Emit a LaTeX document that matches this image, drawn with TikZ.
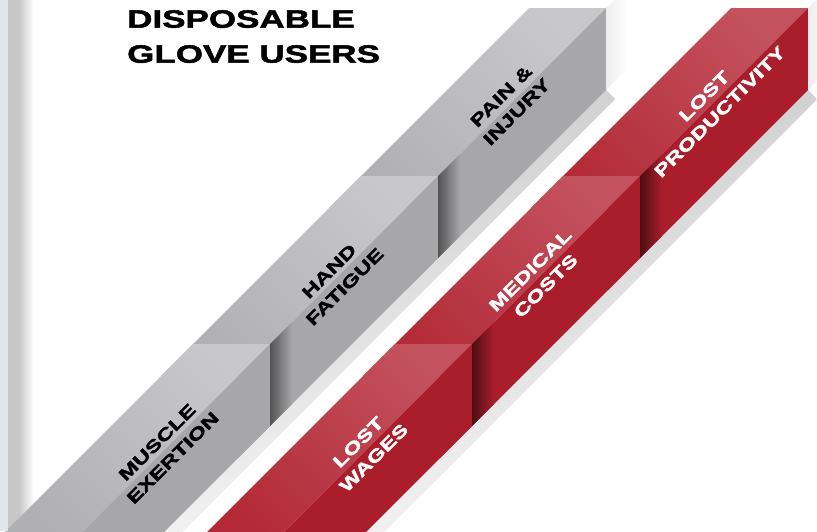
\documentclass[tikz,border=0pt]{standalone}
\usepackage{fontspec}
\usetikzlibrary{positioning,calc}
\newfontfamily\widefont[FakeStretch=1.4,BoldFeatures={FakeBold=2}]{Liberation Sans}
\definecolor{stripblue}{HTML}{E2E6EA}
\definecolor{grayhi}{HTML}{C8C8CA}
\definecolor{graylo}{HTML}{B0B0B2}
\definecolor{grayside}{HTML}{A7A7A9}
\definecolor{redhi}{HTML}{C3525D}
\definecolor{redlo}{HTML}{B32937}
\definecolor{redside}{HTML}{AA1E2C}
\tikzset{
  grayfront/.style={top color=grayhi,bottom color=graylo,shading angle=-45},
  redfront/.style={top color=redhi,bottom color=redlo,shading angle=-45},
  steplabel/.style={rotate=45,align=center,inner sep=0pt,font=\widefont\bfseries\fontsize{17}{22}\selectfont},
}
\begin{document}
\begin{tikzpicture}[x=1pt,y=-1pt]
\useasboundingbox (0,0) rectangle (817,531);
\clip (0,0) rectangle (817,531);
% Page edge
\fill[black!22] (8,0) rectangle (19,531);
\shade[left color=black!22,right color=white] (19,0) rectangle (34,531);
% Shadows under the bands
\foreach \X in {606,808} {
  \begin{scope}[shift={(\X,90)},rotate=45]
    \shade[top color=black!18,bottom color=white] (-900,0) rectangle (0,13);
  \end{scope}
}
% Gray steps
\foreach \X/\Y in {606/8,438/176,270/344} {
  \shade[grayfront] (\X-77,\Y) -- (\X,\Y) -- (\X-200,\Y+200) -- (\X-277,\Y+200) -- cycle;
  \fill[grayside] (\X,\Y) -- (\X,\Y+82) -- (\X-200,\Y+282) -- (\X-200,\Y+200) -- cycle;
}
% Red steps
\foreach \X/\Y in {808/8,640/176,472/344} {
  \shade[redfront] (\X-77,\Y) -- (\X,\Y) -- (\X-200,\Y+200) -- (\X-277,\Y+200) -- cycle;
  \fill[redside] (\X,\Y) -- (\X,\Y+82) -- (\X-200,\Y+282) -- (\X-200,\Y+200) -- cycle;
}
% Shadows of the step ends
\foreach \X/\Y/\dark/\back in {606/8/black!7/white,438/176/grayside!50!black/grayside,270/344/grayside!50!black/grayside,808/8/black!7/white,640/176/redside!45!black/redside,472/344/redside!45!black/redside}
  \shade[left color=\dark,right color=\back] (\X,\Y) -- (\X,\Y+82) -- (\X+22,\Y+60) -- (\X+22,\Y-22) -- cycle;
% Page strip
\fill[stripblue] (0,0) rectangle (8,531);
% Title
\node[anchor=north west,inner sep=0pt,align=left,font=\widefont\bfseries\fontsize{25}{35}\selectfont] (title) at (127,10) {DISPOSABLE\\GLOVE USERS};
% Labels
\node[steplabel] (pain) at (509,104) {PAIN \&\\INJURY};
\node[steplabel] (hand) at (337,279) {HAND\\FATIGUE};
\node[steplabel] (muscle) at (165,450) {MUSCLE\\EXERTION};
\node[steplabel,text=white] (productivity) at (712,104) {LOST\\PRODUCTIVITY};
\node[steplabel,text=white] (medical) at (538,278) {MEDICAL\\COSTS};
\node[steplabel,text=white] (wages) at (366,450) {LOST\\WAGES};
\end{tikzpicture}
\end{document}
